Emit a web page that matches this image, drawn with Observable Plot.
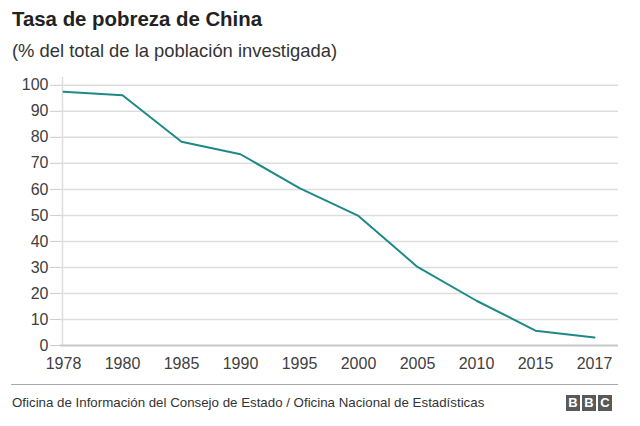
<!DOCTYPE html>
<html>
<head>
<meta charset="utf-8">
<script src="https://cdn.jsdelivr.net/npm/d3@7"></script>
<script src="https://cdn.jsdelivr.net/npm/@observablehq/plot@0.6"></script>
<style>
  body { margin: 0; background: #fff; font-family: "Liberation Sans", Arial, sans-serif; width: 640px; height: 426px; position: relative; overflow: hidden; }
  #title { position: absolute; left: 12px; top: 9px; font-size: 20.4px; line-height: 20px; font-weight: bold; color: #222; }
  #subtitle { position: absolute; left: 12px; top: 42px; font-size: 18.4px; line-height: 18px; color: #333; }
  #chart { position: absolute; left: 0; top: 68px; }
  #rule { position: absolute; left: 11px; top: 384px; width: 607px; height: 0; border-top: 1.5px solid #aaa; }
  #source { position: absolute; left: 12px; top: 396px; font-size: 13.3px; line-height: 13px; color: #333; }
  #bbc { position: absolute; left: 566px; top: 395px; display: flex; gap: 2px; }
  #bbc span { width: 14px; height: 16px; background: #595959; color: #fff; font-weight: bold; font-size: 13px; line-height: 16px; text-align: center; display: block; }
</style>
</head>
<body>
<div id="title">Tasa de pobreza de China</div>
<div id="subtitle">(% del total de la población investigada)</div>
<div id="chart"></div>
<div id="rule"></div>
<div id="source">Oficina de Información del Consejo de Estado / Oficina Nacional de Estadísticas</div>
<div id="bbc"><span>B</span><span>B</span><span>C</span></div>
<script>
const years = ["1978", "1980", "1985", "1990", "1995", "2000", "2005", "2010", "2015", "2017"];
const rates = [97.5, 96.2, 78.3, 73.5, 60.5, 49.8, 30.2, 17.2, 5.7, 3.1];
const yTicks = [0, 10, 20, 30, 40, 50, 60, 70, 80, 90, 100];

const data = years.map((y, i) => ({year: y, rate: rates[i]}));

const chart = Plot.plot({
  width: 640,
  height: 307,
  marginLeft: 60,
  marginRight: 22,
  marginTop: 9,
  marginBottom: 30,
  style: { fontFamily: "'Liberation Sans', Arial, sans-serif", fontSize: "16px", color: "#404040", background: "transparent" },
  x: { type: "point", domain: years, range: [61, 596], padding: 0 },
  y: { domain: [0, 103] },
  marks: [
    Plot.gridY(yTicks.filter(d => d > 0), { stroke: "#dddddd", strokeOpacity: 1, strokeWidth: 1.5 }),
    Plot.ruleX([years[0]], { y1: 0, y2: 103, dx: -1, stroke: "#dddddd", strokeWidth: 1.5 }),
    Plot.ruleY([0], { stroke: "#c8c8c8", strokeWidth: 2 }),
    Plot.axisY(yTicks, { tickSize: 10, tickPadding: 2, stroke: "#cccccc", fill: "#404040", label: null, fontSize: 16 }),
    Plot.axisX(years, { tickSize: 0, tickPadding: 12, fill: "#404040", label: null, fontSize: 16 }),
    Plot.line(data, { x: "year", y: "rate", stroke: "#1d8a87", strokeWidth: 2 })
  ]
});
document.getElementById("chart").appendChild(chart);
</script>
</body>
</html>
